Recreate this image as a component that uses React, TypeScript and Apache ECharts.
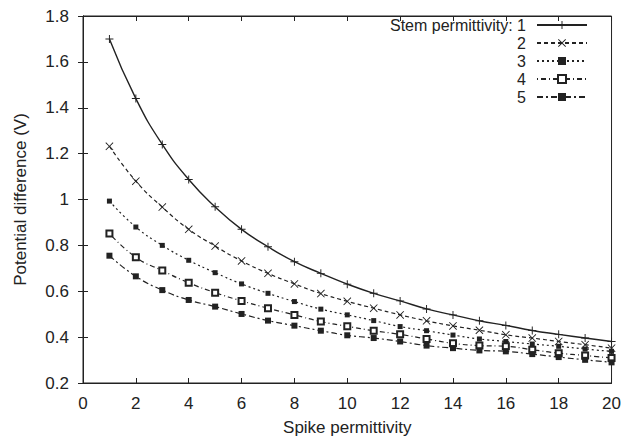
import React, { useEffect, useRef } from "react";
import * as echarts from "echarts";

const xValues = [1, 2, 3, 4, 5, 6, 7, 8, 9, 10, 11, 12, 13, 14, 15, 16, 17, 18, 19, 20];
const seriesNames = ["Stem permittivity: 1", "2", "3", "4", "5"];
const stem1 = [1.70, 1.44, 1.24, 1.087, 0.968, 0.87, 0.794, 0.729, 0.678, 0.631, 0.591, 0.558, 0.523, 0.497, 0.471, 0.451, 0.429, 0.412, 0.396, 0.381];
const stem2 = [1.232, 1.08, 0.967, 0.87, 0.797, 0.732, 0.678, 0.632, 0.59, 0.556, 0.526, 0.497, 0.471, 0.449, 0.43, 0.41, 0.396, 0.381, 0.367, 0.352];
const stem3 = [0.993, 0.88, 0.80, 0.735, 0.681, 0.632, 0.591, 0.555, 0.522, 0.497, 0.472, 0.446, 0.428, 0.409, 0.392, 0.381, 0.37, 0.36, 0.348, 0.338];
const stem4 = [0.852, 0.748, 0.69, 0.637, 0.594, 0.558, 0.526, 0.497, 0.468, 0.447, 0.428, 0.412, 0.392, 0.373, 0.363, 0.36, 0.345, 0.33, 0.32, 0.309];
const stem5 = [0.755, 0.665, 0.605, 0.562, 0.533, 0.501, 0.472, 0.45, 0.428, 0.408, 0.396, 0.381, 0.363, 0.352, 0.342, 0.338, 0.326, 0.313, 0.301, 0.29];
const allSeries = [stem1, stem2, stem3, stem4, stem5];

const PLUS = "path://M4.4,0H5.6V4.4H10V5.6H5.6V10H4.4V5.6H0V4.4H4.4Z";
const CROSS = "path://M0,0.8L0.8,0L5,4.2L9.2,0L10,0.8L5.8,5L10,9.2L9.2,10L5,5.8L0.8,10L0,9.2L4.2,5Z";
const symbols = [PLUS, CROSS, "rect", "emptyRect", "rect"];
const symbolSizes = [8, 8, 5, 6, 6];
const dashes: any[] = ["solid", [4, 3], [2, 3], [1, 3, 5, 3], [6, 3, 2, 3]];

const INK = "#222";
const FONT = "Liberation Sans";
const FS = 17;

export default function App() {
  const ref = useRef<HTMLDivElement>(null);
  useEffect(() => {
    const chart = echarts.init(ref.current!, undefined, { renderer: "svg" });
    const legendCenters = [25, 43, 61, 79, 97];
    chart.setOption({
      animation: false,
      backgroundColor: "#fff",
      grid: { left: 83, right: 12, top: 16, bottom: 57, show: true, borderColor: INK, borderWidth: 1 },
      legend: seriesNames.map((n, i) => ({
        data: [n],
        right: 36,
        top: legendCenters[i] - 8,
        align: "right",
        padding: 0,
        itemWidth: 50,
        itemHeight: 10,
        textStyle: { fontFamily: FONT, fontSize: 16, lineHeight: 16, color: INK, padding: [0, 6, 0, 0] },
      })),
      xAxis: [
        {
          type: "value",
          min: 0,
          max: 20,
          interval: 2,
          name: "Spike permittivity",
          nameLocation: "middle",
          nameGap: 36,
          nameTextStyle: { fontFamily: FONT, fontSize: FS, color: INK },
          axisLine: { show: true, lineStyle: { color: INK } },
          axisTick: { show: true, inside: true, length: 5, lineStyle: { color: INK } },
          axisLabel: { fontFamily: FONT, fontSize: FS, color: INK, margin: 12 },
          splitLine: { show: false },
        },
        {
          type: "value",
          position: "top",
          min: 0,
          max: 20,
          interval: 2,
          axisLine: { show: true, lineStyle: { color: INK } },
          axisTick: { show: true, inside: true, length: 5, lineStyle: { color: INK } },
          axisLabel: { show: false },
          splitLine: { show: false },
        },
      ],
      yAxis: [
        {
          type: "value",
          min: 0.2,
          max: 1.8,
          interval: 0.2,
          name: "Potential difference (V)",
          nameLocation: "middle",
          nameGap: 54,
          nameTextStyle: { fontFamily: FONT, fontSize: FS, color: INK },
          axisLine: { show: true, lineStyle: { color: INK } },
          axisTick: { show: true, inside: true, length: 5, lineStyle: { color: INK } },
          axisLabel: { fontFamily: FONT, fontSize: FS, color: INK, margin: 14 },
          splitLine: { show: false },
        },
        {
          type: "value",
          position: "right",
          min: 0.2,
          max: 1.8,
          interval: 0.2,
          axisLine: { show: true, lineStyle: { color: INK } },
          axisTick: { show: true, inside: true, length: 5, lineStyle: { color: INK } },
          axisLabel: { show: false },
          splitLine: { show: false },
        },
      ],
      series: allSeries.map((vals, i) => ({
        type: "line",
        name: seriesNames[i],
        xAxisIndex: 0,
        yAxisIndex: 0,
        smooth: true,
        data: xValues.map((x, j) => [x, vals[j]]),
        symbol: symbols[i],
        symbolSize: symbolSizes[i],
        showSymbol: true,
        color: INK,
        itemStyle: { color: INK, borderColor: INK, borderWidth: i === 3 ? 1.2 : 0 },
        lineStyle: { color: INK, width: i === 0 ? 1.4 : 1.2, type: dashes[i] },
      })),
    });
    return () => chart.dispose();
  }, []);
  return (
    <div
      ref={ref}
      style={{ position: "absolute", left: 0, top: 0, width: 624, height: 441 }}
    />
  );
}
